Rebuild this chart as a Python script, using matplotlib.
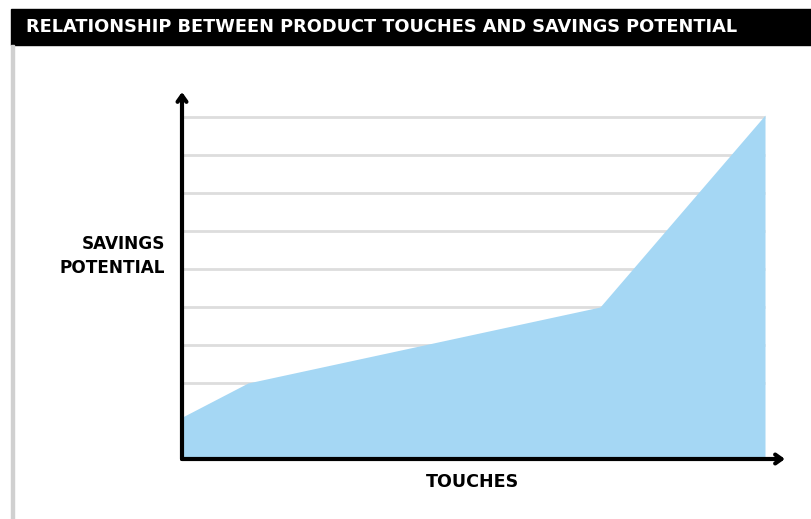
import matplotlib.pyplot as plt

# touches (relative) vs savings potential (relative units)
touches = [0, 11.3, 71.7, 100]
savings = [1.1, 2.0, 4.0, 9.05]
grid_levels = [2, 3, 4, 5, 6, 7, 8, 9]

title = 'RELATIONSHIP BETWEEN PRODUCT TOUCHES AND SAVINGS POTENTIAL'
xlabel = 'TOUCHES'
ylabel = 'SAVINGS\nPOTENTIAL'

W, H = 812, 519
fig = plt.figure(figsize=(W / 100, H / 100), dpi=100)
fig.patch.set_facecolor('white')

# title bar and left border
fig.patches.append(plt.Rectangle((11 / W, 1 - 45 / H), 1, 36 / H, transform=fig.transFigure,
                                 color='black', zorder=0))
fig.patches.append(plt.Rectangle((11 / W, 0), 3 / W, 1 - 45 / H, transform=fig.transFigure,
                                 color='#d0d0d0', zorder=0))
fig.text(26 / W, 1 - 27 / H, title, color='white', fontsize=12.8, fontweight='bold',
         va='center', ha='left')

x0, x1 = 182, 785
y0, y1 = 459, 92
ax = fig.add_axes([x0 / W, 1 - y0 / H, (x1 - x0) / W, (y0 - y1) / H])
ax.set_xlim(0, (x1 - x0) / 5.83)
ax.set_ylim(0, (y0 - y1) / 38.0)
for s in ax.spines.values():
    s.set_visible(False)
ax.set_xticks([])
ax.set_yticks([])

for g in grid_levels:
    ax.plot([0, 100], [g, g], color='#dddddd', lw=2, zorder=1, solid_capstyle='butt')

ax.fill_between(touches, savings, 0, color='#a5d7f4', lw=0, zorder=2)

arrow = dict(arrowstyle='->,head_length=0.45,head_width=0.32', lw=3,
             color='black', shrinkA=0, shrinkB=0)
ax.annotate('', xy=(1, 0), xytext=(0, 0), xycoords='axes fraction', arrowprops=arrow, zorder=5)
ax.annotate('', xy=(0, 1), xytext=(0, 0), xycoords='axes fraction', arrowprops=arrow, zorder=5)

fig.text(473 / W, 1 - 482 / H, xlabel, fontsize=12.6, fontweight='bold', ha='center', va='center')
fig.text(165 / W, 1 - 256 / H, ylabel, fontsize=12.2, fontweight='bold', ha='right', va='center',
         multialignment='right', linespacing=1.45)

fig.savefig('out.png', dpi=100)
